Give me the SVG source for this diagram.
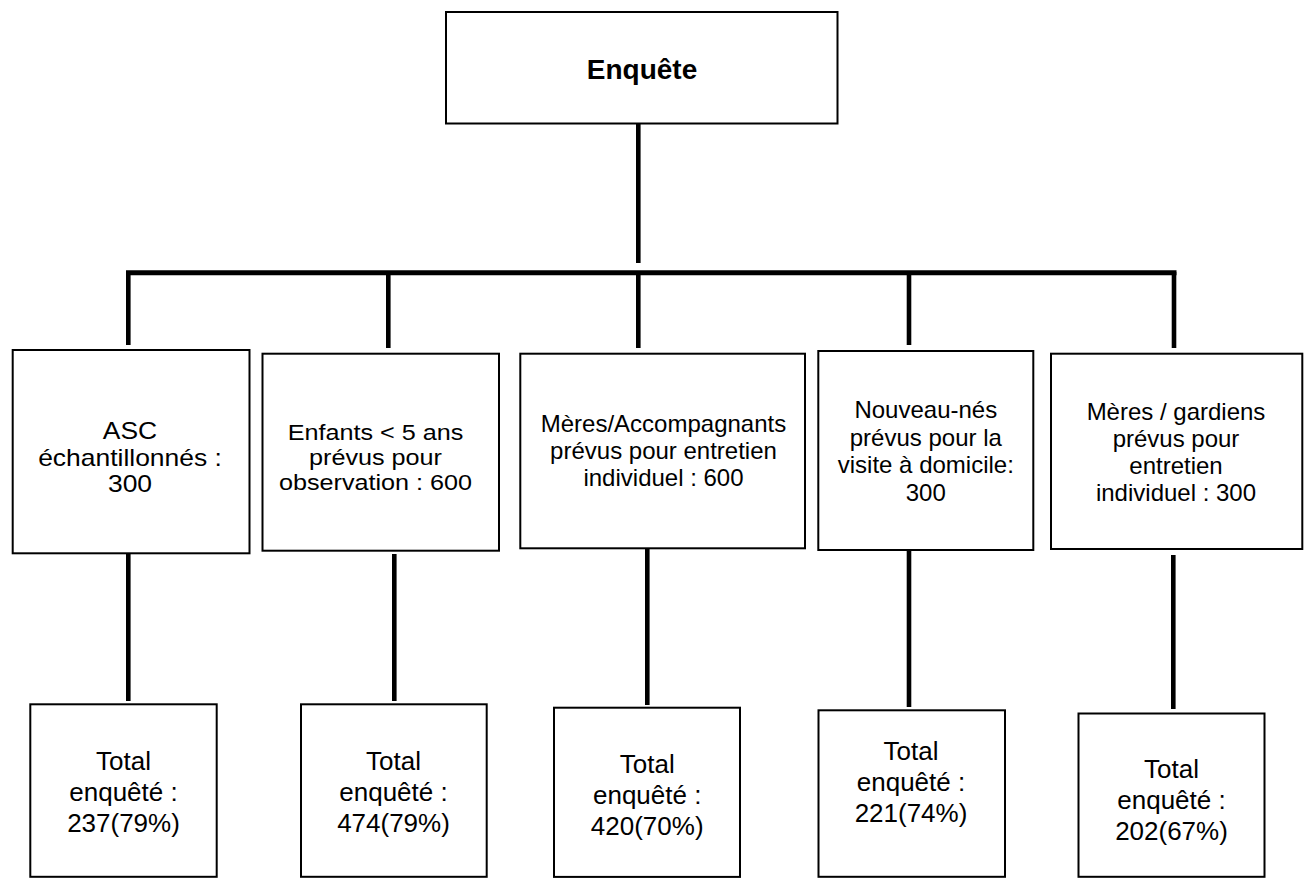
<svg xmlns="http://www.w3.org/2000/svg" width="1310" height="879" viewBox="0 0 1310 879">
<style>
  .box { fill: #ffffff; stroke: #000000; stroke-width: 2; }
  .conn { stroke: #000000; stroke-width: 4.6; fill: none; stroke-linecap: butt; }
  text { font-family: "Liberation Sans", Arial, sans-serif; fill: #000000; text-anchor: middle; }
  .title { font-weight: bold; font-size: 28px; }
  .m1 { font-size: 23px; }
  .m2 { font-size: 22px; }
  .m { font-size: 24px; }
  .b { font-size: 26px; }
</style>
<rect width="1310" height="879" fill="#ffffff"/>
<g id="connectors">
  <line class="conn" x1="638.3" y1="124" x2="638.3" y2="263"/>
  <line class="conn" x1="126" y1="272.7" x2="1176.5" y2="272.7" style="stroke-width:5"/>
  <line class="conn" x1="128.3" y1="272" x2="128.3" y2="345"/>
  <line class="conn" x1="388.3" y1="272" x2="388.3" y2="348"/>
  <line class="conn" x1="638.3" y1="272" x2="638.3" y2="348"/>
  <line class="conn" x1="909" y1="272" x2="909" y2="345"/>
  <line class="conn" x1="1174" y1="272" x2="1174" y2="348"/>
  <line class="conn" x1="128.3" y1="554" x2="128.3" y2="701"/>
  <line class="conn" x1="394.3" y1="554" x2="394.3" y2="701"/>
  <line class="conn" x1="647.3" y1="549" x2="647.3" y2="705"/>
  <line class="conn" x1="909" y1="551" x2="909" y2="707"/>
  <line class="conn" x1="1173.3" y1="555" x2="1173.3" y2="709"/>
</g>
<g id="root">
  <rect class="box" x="446" y="12" width="391.5" height="111.5"/>
  <text class="title" x="642" y="79">Enquête</text>
</g>
<g id="n1">
  <rect class="box" x="12.7" y="350" width="236.8" height="203.3"/>
  <g transform="translate(130,0) scale(1.15,1)">
    <text class="m1" x="0" y="439.5">ASC</text>
    <text class="m1" x="0" y="466">échantillonnés :</text>
    <text class="m1" x="0" y="492.5">300</text>
  </g>
</g>
<g id="n2">
  <rect class="box" x="262.5" y="353.7" width="236.5" height="197"/>
  <g transform="translate(375.5,0) scale(1.145,1)">
    <text class="m2" x="0" y="440">Enfants &lt; 5 ans</text>
    <text class="m2" x="0" y="465">prévus pour</text>
    <text class="m2" x="0" y="490">observation : 600</text>
  </g>
</g>
<g id="n3">
  <rect class="box" x="520.3" y="353.7" width="284.7" height="194.6"/>
  <text class="m" x="663.5" y="432">Mères/Accompagnants</text>
  <text class="m" x="663.5" y="459">prévus pour entretien</text>
  <text class="m" x="663.5" y="486">individuel : 600</text>
</g>
<g id="n4">
  <rect class="box" x="818.3" y="351" width="215" height="199"/>
  <text class="m" x="925.8" y="418">Nouveau-nés</text>
  <text class="m" x="925.8" y="445.5">prévus pour la</text>
  <text class="m" x="925.8" y="473">visite à domicile:</text>
  <text class="m" x="925.8" y="500.5">300</text>
</g>
<g id="n5">
  <rect class="box" x="1051" y="353.7" width="251.3" height="195.3"/>
  <text class="m" x="1176" y="420">Mères / gardiens</text>
  <text class="m" x="1176" y="447">prévus pour</text>
  <text class="m" x="1176" y="474">entretien</text>
  <text class="m" x="1176" y="501">individuel : 300</text>
</g>
<g id="t1">
  <rect class="box" x="30.3" y="704.3" width="186.4" height="172.5"/>
  <text class="b" x="123.5" y="770">Total</text>
  <text class="b" x="123.5" y="801">enquêté :</text>
  <text class="b" x="123.5" y="832">237(79%)</text>
</g>
<g id="t2">
  <rect class="box" x="301" y="704.3" width="185.7" height="172.5"/>
  <text class="b" x="393.5" y="770">Total</text>
  <text class="b" x="393.5" y="801">enquêté :</text>
  <text class="b" x="393.5" y="832">474(79%)</text>
</g>
<g id="t3">
  <rect class="box" x="554" y="707.7" width="186" height="169.2"/>
  <text class="b" x="647.2" y="773">Total</text>
  <text class="b" x="647.2" y="804">enquêté :</text>
  <text class="b" x="647.2" y="835">420(70%)</text>
</g>
<g id="t4">
  <rect class="box" x="818.5" y="710.3" width="186.5" height="166.5"/>
  <text class="b" x="911" y="760">Total</text>
  <text class="b" x="911" y="791">enquêté :</text>
  <text class="b" x="911" y="822">221(74%)</text>
</g>
<g id="t5">
  <rect class="box" x="1078.5" y="713.5" width="186" height="163.3"/>
  <text class="b" x="1171.5" y="778">Total</text>
  <text class="b" x="1171.5" y="809">enquêté :</text>
  <text class="b" x="1171.5" y="840">202(67%)</text>
</g>
</svg>
